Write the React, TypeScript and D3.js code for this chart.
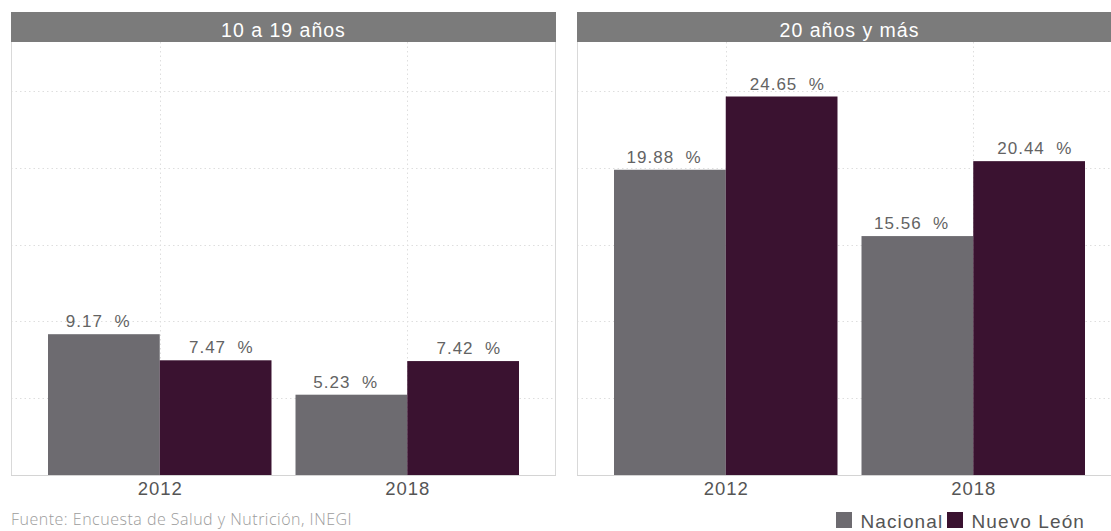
import React from 'react';
import * as d3 from 'd3';

const categories = ['2012', '2018'];
const panelTitles = ['10 a 19 años', '20 años y más'];
const seriesNames = ['Nacional', 'Nuevo León'];
const nacional10a19 = [9.17, 5.23];
const nuevoLeon10a19 = [7.47, 7.42];
const nacional20ymas = [19.88, 15.56];
const nuevoLeon20ymas = [24.65, 20.44];
const yTicks = [5, 10, 15, 20, 25];
const footnote = 'Fuente: Encuesta de Salud y Nutrición, INEGI';

const panelValues = [
  [nacional10a19, nuevoLeon10a19],
  [nacional20ymas, nuevoLeon20ymas],
];

const W = 1111;
const H = 531;
const FONT = '"Liberation Sans", Arial, Helvetica, sans-serif';
const colors = ['#6d6b70', '#3a1230'];
const panelW = 545;
const panelX = [11, 577];
const headerTop = 12;
const plotTop = 42;
const plotBottom = 475;
const sideInset = 37;

export default function App() {
  const y = d3.scaleLinear().domain([0, 28.2]).range([plotBottom, plotTop]);
  const color = d3.scaleOrdinal<string, string>().domain(seriesNames).range(colors);

  return (
    <svg
      width={W}
      height={H}
      style={{ position: 'fixed', left: 0, top: 0, display: 'block', overflow: 'hidden', background: '#fff' }}
    >
      {panelTitles.map((title, pi) => {
        const px = panelX[pi];
        const x0 = d3
          .scaleBand<string>()
          .domain(categories)
          .range([px + sideInset, px + panelW - sideInset])
          .paddingInner(0.097);
        const x1 = d3.scaleBand<string>().domain(seriesNames).range([0, x0.bandwidth()]);
        return (
          <g key={title}>
            {yTicks.map((t) => (
              <line
                key={'h' + t}
                x1={px}
                x2={px + panelW}
                y1={Math.round(y(t)) + 0.5}
                y2={Math.round(y(t)) + 0.5}
                stroke="#dedede"
                strokeWidth={1}
                strokeDasharray="1.5,3"
              />
            ))}
            {categories.map((c) => {
              const cx = Math.round((x0(c) as number) + x0.bandwidth() / 2) + 0.5;
              return (
                <line
                  key={'v' + c}
                  x1={cx}
                  x2={cx}
                  y1={plotTop}
                  y2={plotBottom}
                  stroke="#dedede"
                  strokeWidth={1}
                  strokeDasharray="1.5,3"
                />
              );
            })}
            <line x1={px + 0.5} x2={px + 0.5} y1={plotTop} y2={plotBottom} stroke="#d9d9d9" />
            <line x1={px + panelW - 0.5} x2={px + panelW - 0.5} y1={plotTop} y2={plotBottom} stroke="#d9d9d9" />
            {categories.map((c, ci) =>
              seriesNames.map((s, si) => {
                const v = panelValues[pi][si][ci];
                const bx = (x0(c) as number) + (x1(s) as number);
                return (
                  <rect
                    key={c + s}
                    x={bx}
                    y={y(v)}
                    width={x1.bandwidth()}
                    height={y(0) - y(v)}
                    fill={color(s)}
                  />
                );
              })
            )}
            <line x1={px} x2={px + panelW} y1={plotBottom + 0.5} y2={plotBottom + 0.5} stroke="#d4d4d4" />
            {categories.map((c, ci) =>
              seriesNames.map((s, si) => {
                const v = panelValues[pi][si][ci];
                const bx = (x0(c) as number) + (x1(s) as number) + x1.bandwidth() / 2 + (si === 0 ? -5.7 : 5.7);
                return (
                  <text
                    key={'l' + c + s}
                    x={bx}
                    y={y(v) - 7}
                    textAnchor="middle"
                    fontFamily={FONT}
                    fontSize={17}
                    letterSpacing={1}
                    fill="#636363"
                    style={{ whiteSpace: 'pre' }}
                  >
                    {v.toFixed(2) + '  %'}
                  </text>
                );
              })
            )}
            {categories.map((c) => (
              <text
                key={'c' + c}
                x={(x0(c) as number) + x0.bandwidth() / 2 + 0.5}
                y={494.5}
                textAnchor="middle"
                fontFamily={FONT}
                fontSize={18.5}
                letterSpacing={1}
                fill="#555555"
              >
                {c}
              </text>
            ))}
            <rect x={px} y={headerTop} width={panelW} height={plotTop - headerTop} fill="#7b7b7b" />
            <text
              x={px + panelW / 2}
              y={36.5}
              textAnchor="middle"
              fontFamily={FONT}
              fontSize={19.5}
              letterSpacing={1}
              fill="#ffffff"
              style={{ whiteSpace: 'pre' }}
            >
              {title}
            </text>
          </g>
        );
      })}
      <text
        x={11}
        y={525}
        fontFamily='"Open Sans", "Noto Sans", sans-serif'
        fontWeight={300}
        fontSize={16}
        letterSpacing={0.5}
        fill="#9c9c9c"
      >
        {footnote}
      </text>
      {seriesNames.map((s, i) => {
        const lx = [836, 947][i];
        return (
          <g key={'lg' + s}>
            <rect x={lx} y={512} width={16} height={16} fill={color(s)} />
            <text
              x={lx + 24.5}
              y={528}
              fontFamily={FONT}
              fontSize={19}
              letterSpacing={1.1}
              fill="#555555"
            >
              {s}
            </text>
          </g>
        );
      })}
    </svg>
  );
}
